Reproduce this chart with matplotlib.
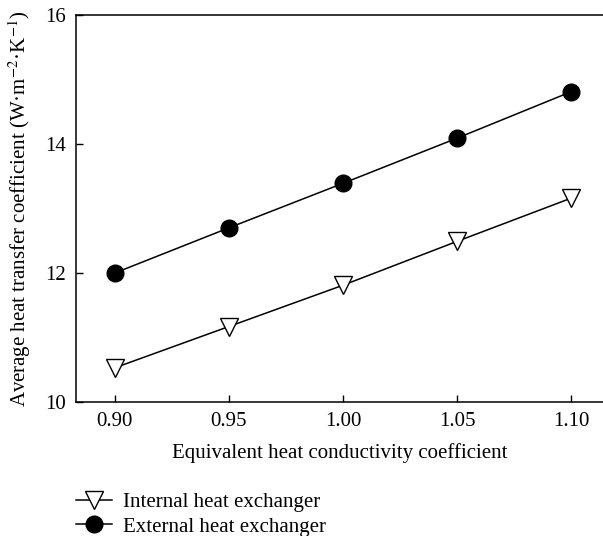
import matplotlib
matplotlib.use("Agg")
import matplotlib.pyplot as plt

x_vals = [0.90, 0.95, 1.00, 1.05, 1.10]
internal = [10.53, 11.17, 11.81, 12.49, 13.16]
external = [12.00, 12.70, 13.39, 14.09, 14.81]
x_ticks = [0.90, 0.95, 1.00, 1.05, 1.10]
x_tick_labels = ["0.90", "0.95", "1.00", "1.05", "1.10"]
y_ticks = [10, 12, 14, 16]

plt.rcParams['font.family'] = ['Liberation Serif', 'DejaVu Serif']
plt.rcParams['mathtext.fontset'] = 'stix'

fig = plt.figure(figsize=(6.03, 5.36), dpi=100)
ax = fig.add_axes([76/603, 1-402/536, (603-76)/603, (402-15)/536])

l1, = ax.plot(x_vals, internal, color='black', lw=1.1, marker='v', markersize=13,
              markerfacecolor='white', markeredgecolor='black', markeredgewidth=1.0,
              label='Internal heat exchanger')
l2, = ax.plot(x_vals, external, color='black', lw=1.1, marker='o', markersize=12,
              markerfacecolor='black', markeredgecolor='black',
              label='External heat exchanger')

ax.set_xlim(0.883, 1.114)
ax.set_ylim(10, 16)
ax.set_xticks(x_ticks)
ax.set_xticklabels(x_tick_labels)
ax.set_yticks(y_ticks)
ax.tick_params(direction='in', length=5, width=1, labelsize=15, pad=7)
ax.spines['right'].set_visible(False)
for s in ['left', 'bottom', 'top']:
    ax.spines[s].set_linewidth(1.1)

ax.set_xlabel('Equivalent heat conductivity coefficient', fontsize=15, labelpad=9)
ax.set_ylabel('Average heat transfer coefficient (W·m$^{-2}$·K$^{-1}$)', fontsize=15, labelpad=9)

fig.legend(handles=[l1, l2], loc='upper left', bbox_to_anchor=(68/603, 1-484/536),
           frameon=False, fontsize=15, handlelength=1.7, handletextpad=0.55,
           labelspacing=0.25, borderaxespad=0)

fig.savefig('out.png', dpi=100)
